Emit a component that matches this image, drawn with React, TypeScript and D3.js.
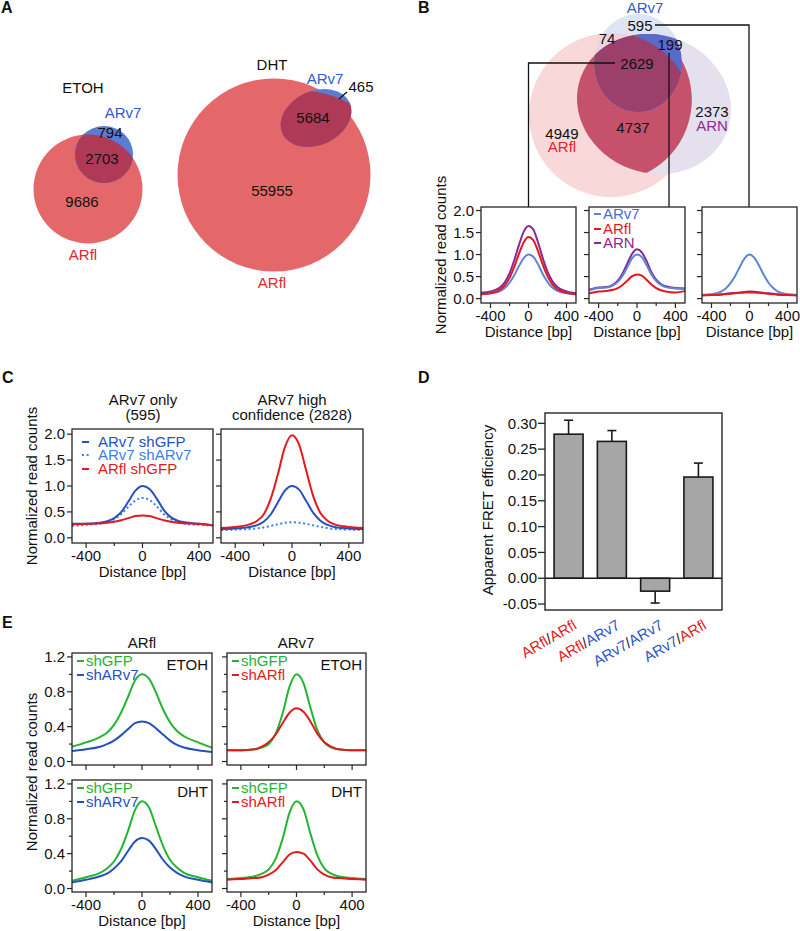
import React from 'react';
import * as d3 from 'd3';

const FONT = '"Liberation Sans", Arial, Helvetica, sans-serif';
const C_RED = '#e3191c';
const C_BLUE = '#2550c2';
const C_LBLUE = '#5b86d8';
const C_DOT = '#3c7fe6';
const C_PURPLE = '#86279a';
const C_GREEN = '#22b531';
const C_AXIS = '#262626';

// ---------- Panel A (Venn counts) ----------
const A_ETOH_COUNTS = [9686, 2703, 794];
const A_DHT_COUNTS = [55955, 5684, 465];

// ---------- Panel B (Venn counts) ----------
const B_COUNTS = { v7only: 595, v7fl: 74, v7n: 199, all: 2629, fln: 4737, flOnly: 4949, nOnly: 2373 };

// ---------- Profile x positions (bp) ----------
const DIST = [-500, -400, -300, -250, -200, -150, -100, -50, 0, 50, 100, 150, 200, 250, 300, 400, 500];
const X_MAJOR = [-400, 0, 400];
const X_MINOR = [-200, 200];

// Panel B profiles
const B1_ARV7 = [0.10, 0.12, 0.17, 0.24, 0.36, 0.53, 0.74, 0.92, 1.0, 0.95, 0.78, 0.56, 0.38, 0.25, 0.18, 0.12, 0.10];
const B1_ARFL = [0.10, 0.12, 0.20, 0.30, 0.47, 0.72, 1.02, 1.28, 1.40, 1.33, 1.08, 0.77, 0.51, 0.33, 0.22, 0.13, 0.10];
const B1_ARN = [0.13, 0.16, 0.25, 0.37, 0.57, 0.87, 1.22, 1.52, 1.65, 1.57, 1.28, 0.92, 0.61, 0.40, 0.27, 0.16, 0.12];
const B2_ARV7 = [0.19, 0.24, 0.26, 0.30, 0.38, 0.52, 0.72, 0.92, 1.0, 0.94, 0.76, 0.55, 0.40, 0.31, 0.26, 0.23, 0.22];
const B2_ARFL = [0.12, 0.16, 0.18, 0.20, 0.24, 0.31, 0.41, 0.51, 0.55, 0.52, 0.43, 0.32, 0.24, 0.19, 0.16, 0.14, 0.17];
const B2_ARN = [0.20, 0.25, 0.27, 0.32, 0.41, 0.57, 0.80, 1.02, 1.12, 1.05, 0.85, 0.60, 0.43, 0.33, 0.28, 0.24, 0.23];
const B3_ARV7 = [0.08, 0.10, 0.16, 0.23, 0.35, 0.52, 0.73, 0.92, 1.0, 0.93, 0.75, 0.54, 0.36, 0.24, 0.16, 0.10, 0.08];
const B3_ARFL = [0.07, 0.08, 0.09, 0.10, 0.11, 0.12, 0.13, 0.14, 0.14, 0.14, 0.13, 0.12, 0.11, 0.10, 0.09, 0.08, 0.07];
const B3_ARN = [0.08, 0.09, 0.10, 0.11, 0.12, 0.13, 0.14, 0.15, 0.16, 0.155, 0.145, 0.13, 0.12, 0.11, 0.10, 0.09, 0.08];

// Panel C profiles
const C1_V7_SHGFP = [0.27, 0.27, 0.29, 0.32, 0.38, 0.50, 0.70, 0.91, 1.0, 0.94, 0.76, 0.54, 0.40, 0.33, 0.30, 0.27, 0.24];
const C1_V7_SHV7 = [0.23, 0.25, 0.27, 0.30, 0.36, 0.46, 0.60, 0.72, 0.77, 0.73, 0.61, 0.46, 0.36, 0.30, 0.27, 0.25, 0.24];
const C1_FL_SHGFP = [0.26, 0.27, 0.28, 0.29, 0.31, 0.34, 0.38, 0.42, 0.43, 0.42, 0.38, 0.34, 0.31, 0.29, 0.28, 0.27, 0.24];
const C2_V7_SHGFP = [0.17, 0.18, 0.21, 0.24, 0.31, 0.45, 0.68, 0.91, 1.0, 0.93, 0.71, 0.48, 0.33, 0.25, 0.21, 0.18, 0.17];
const C2_V7_SHV7 = [0.15, 0.16, 0.17, 0.18, 0.20, 0.23, 0.26, 0.29, 0.30, 0.29, 0.27, 0.24, 0.21, 0.19, 0.17, 0.16, 0.15];
const C2_FL_SHGFP = [0.19, 0.21, 0.26, 0.32, 0.45, 0.75, 1.22, 1.75, 1.98, 1.80, 1.30, 0.80, 0.48, 0.33, 0.26, 0.21, 0.19];

// Panel D
const D_PAIRS = [['ARfl', 'ARfl'], ['ARfl', 'ARv7'], ['ARv7', 'ARv7'], ['ARv7', 'ARfl']];
const D_VALUES = [0.279, 0.265, -0.025, 0.196];
const D_ERRORS = [0.027, 0.021, 0.023, 0.027];
const D_TICKS = [-0.05, 0, 0.05, 0.1, 0.15, 0.2, 0.25, 0.3];

// Panel E profiles
const E1_SHGFP = [0.17, 0.22, 0.28, 0.33, 0.42, 0.56, 0.74, 0.93, 1.0, 0.95, 0.79, 0.60, 0.45, 0.35, 0.29, 0.22, 0.16];
const E1_SHARV7 = [0.12, 0.14, 0.17, 0.20, 0.24, 0.30, 0.37, 0.44, 0.46, 0.44, 0.38, 0.31, 0.24, 0.19, 0.16, 0.13, 0.11];
const E2_SHGFP = [0.13, 0.13, 0.14, 0.16, 0.20, 0.32, 0.55, 0.86, 1.0, 0.90, 0.62, 0.36, 0.22, 0.16, 0.14, 0.13, 0.13];
const E2_SHARFL = [0.13, 0.13, 0.14, 0.17, 0.22, 0.31, 0.44, 0.56, 0.61, 0.57, 0.46, 0.32, 0.22, 0.17, 0.14, 0.13, 0.13];
const E3_SHGFP = [0.09, 0.13, 0.18, 0.23, 0.31, 0.45, 0.66, 0.90, 1.0, 0.93, 0.71, 0.49, 0.33, 0.24, 0.18, 0.13, 0.09];
const E3_SHARV7 = [0.07, 0.10, 0.14, 0.17, 0.23, 0.31, 0.43, 0.54, 0.58, 0.55, 0.45, 0.33, 0.24, 0.18, 0.14, 0.10, 0.07];
const E4_SHGFP = [0.11, 0.12, 0.14, 0.17, 0.22, 0.34, 0.57, 0.87, 1.0, 0.91, 0.63, 0.38, 0.23, 0.17, 0.14, 0.12, 0.11];
const E4_SHARFL = [0.10, 0.11, 0.12, 0.13, 0.16, 0.21, 0.30, 0.39, 0.42, 0.40, 0.32, 0.22, 0.16, 0.13, 0.12, 0.11, 0.10];

const fmt1 = (v: number) => d3.format('.1f')(v).replace('\u2212', '-');
const fmt2 = (v: number) => d3.format('.2f')(v).replace('\u2212', '-');

function T({ x, y, children, anchor = 'middle', fill = '#111', size = 15, weight = 'normal' }: any) {
  return (
    <text x={x} y={y} dy="0.35em" textAnchor={anchor} fill={fill} fontSize={size} fontWeight={weight}>
      {children}
    </text>
  );
}

type Series = { values: number[]; color: string; dash?: string };

function Profile({ box, yDomain, yTicks, yMinor = [], yFmt, showY, showX = true, series }: any) {
  const [x0, y0, x1, y1] = box;
  const xs = d3.scaleLinear().domain([-500, 500]).range([x0, x1]);
  const ys = d3.scaleLinear().domain(yDomain).range([y1, y0]);
  const line = d3
    .line<number>()
    .x((_, i) => xs(DIST[i]))
    .y((d) => ys(d))
    .curve(d3.curveMonotoneX);
  return (
    <g>
      {(series as Series[]).map((s, i) => (
        <path key={i} d={line(s.values) || ''} fill="none" stroke={s.color} strokeWidth={2} strokeDasharray={s.dash} />
      ))}
      <rect x={x0} y={y0} width={x1 - x0} height={y1 - y0} fill="none" stroke={C_AXIS} strokeWidth={1.3} />
      {yTicks.map((t: number) => (
        <g key={'y' + t}>
          <line x1={x0 - 5} x2={x0} y1={ys(t)} y2={ys(t)} stroke={C_AXIS} strokeWidth={1.2} />
          {showY && <T x={x0 - 7} y={ys(t)} anchor="end">{yFmt(t)}</T>}
        </g>
      ))}
      {yMinor.map((t: number) => (
        <line key={'ym' + t} x1={x0 - 3} x2={x0} y1={ys(t)} y2={ys(t)} stroke={C_AXIS} strokeWidth={1.2} />
      ))}
      {X_MAJOR.map((t) => (
        <line key={'x' + t} x1={xs(t)} x2={xs(t)} y1={y1} y2={y1 + 5} stroke={C_AXIS} strokeWidth={1.2} />
      ))}
      {X_MINOR.map((t) => (
        <line key={'xm' + t} x1={xs(t)} x2={xs(t)} y1={y1} y2={y1 + 3} stroke={C_AXIS} strokeWidth={1.2} />
      ))}
      {showX && X_MAJOR.map((t) => <T key={'xl' + t} x={xs(t)} y={y1 + 13}>{String(t)}</T>)}
      {showX && <T x={(x0 + x1) / 2} y={y1 + 29}>Distance [bp]</T>}
    </g>
  );
}

function LegendLine({ x, y, color, label, dash, textColor }: any) {
  return (
    <g>
      <line x1={x} x2={x + 7} y1={y} y2={y} stroke={color} strokeWidth={2} strokeDasharray={dash} />
      <T x={x + 9} y={y} anchor="start" fill={textColor || color}>{label}</T>
    </g>
  );
}

function PanelA() {
  const red = '#e4686a';
  const blue = '#5a7dd2';
  const dark = '#ae3a58';
  return (
    <g>
      <defs>
        <clipPath id="aEtohFl"><circle cx={88} cy={189} r={54.5} /></clipPath>
        <clipPath id="aDhtFl"><circle cx={274} cy={175} r={96.5} /></clipPath>
      </defs>
      {/* ETOH */}
      <circle cx={88} cy={189} r={54.5} fill={red} />
      <ellipse cx={104} cy={154.5} rx={29} ry={28.5} fill={blue} />
      <ellipse cx={104} cy={154.5} rx={29} ry={28.5} fill={dark} clipPath="url(#aEtohFl)" />
      <T x={83} y={88}>ETOH</T>
      <T x={123} y={113} fill="#2f5bd0">ARv7</T>
      <T x={110} y={133}>{A_ETOH_COUNTS[2]}</T>
      <T x={102} y={159}>{A_ETOH_COUNTS[1]}</T>
      <T x={82} y={202}>{A_ETOH_COUNTS[0]}</T>
      <T x={83} y={255} fill="#e0262b">ARfl</T>
      {/* DHT */}
      <circle cx={274} cy={175} r={96.5} fill={red} />
      <ellipse cx={316} cy={118} rx={37} ry={27} transform="rotate(-25 316 118)" fill={blue} />
      <ellipse cx={316} cy={118} rx={37} ry={27} transform="rotate(-25 316 118)" fill={dark} clipPath="url(#aDhtFl)" />
      <T x={272} y={65}>DHT</T>
      <T x={325} y={79} fill="#2f5bd0">ARv7</T>
      <T x={361} y={87}>{A_DHT_COUNTS[2]}</T>
      <line x1={339} y1={99} x2={347} y2={92} stroke="#111" strokeWidth={1.3} />
      <T x={313} y={118}>{A_DHT_COUNTS[1]}</T>
      <T x={272} y={191}>{A_DHT_COUNTS[0]}</T>
      <T x={272} y={283} fill="#e0262b">ARfl</T>
    </g>
  );
}

function PanelB() {
  const fl = { cx: 611, cy: 115, rx: 82, ry: 82 };
  const n = { cx: 654, cy: 104, rx: 78, ry: 69, rot: 20 };
  const v7 = { cx: 638, cy: 63, rx: 44, ry: 49 };
  const flE = (p: any) => <ellipse cx={fl.cx} cy={fl.cy} rx={fl.rx} ry={fl.ry} {...p} />;
  const nE = (p: any) => (
    <ellipse cx={n.cx} cy={n.cy} rx={n.rx} ry={n.ry} transform={`rotate(${n.rot} ${n.cx} ${n.cy})`} {...p} />
  );
  const v7E = (p: any) => <ellipse cx={v7.cx} cy={v7.cy} rx={v7.rx} ry={v7.ry} {...p} />;
  const yT = [0, 0.5, 1, 1.5, 2];
  const boxes = [
    [481, 207, 576, 303],
    [589, 207, 685, 303],
    [702, 207, 797, 303],
  ];
  const data = [
    [B1_ARN, B1_ARV7, B1_ARFL],
    [B2_ARN, B2_ARV7, B2_ARFL],
    [B3_ARN, B3_ARV7, B3_ARFL],
  ];
  return (
    <g>
      <defs>
        <clipPath id="bFl">{flE({})}</clipPath>
        <clipPath id="bN">{nE({})}</clipPath>
      </defs>
      {flE({ fill: '#f8d8d8' })}
      {nE({ fill: '#e5e0ee' })}
      {v7E({ fill: '#dfe4f4' })}
      {nE({ fill: '#c5516b', clipPath: 'url(#bFl)' })}
      {v7E({ fill: '#edd3dd', clipPath: 'url(#bFl)' })}
      {v7E({ fill: '#5a6acb', clipPath: 'url(#bN)' })}
      <g clipPath="url(#bFl)">{v7E({ fill: '#9c3f6a', clipPath: 'url(#bN)' })}</g>
      <T x={645} y={8} fill="#2f5bd0">ARv7</T>
      <T x={640} y={26}>{B_COUNTS.v7only}</T>
      <T x={607} y={39}>{B_COUNTS.v7fl}</T>
      <T x={670} y={45}>{B_COUNTS.v7n}</T>
      <T x={637} y={64}>{B_COUNTS.all}</T>
      <T x={633} y={128}>{B_COUNTS.fln}</T>
      <T x={562} y={134}>{B_COUNTS.flOnly}</T>
      <T x={562} y={147} fill="#e0262b">ARfl</T>
      <T x={712} y={112}>{B_COUNTS.nOnly}</T>
      <T x={712} y={126} fill="#8e2a98">ARN</T>
      {/* connectors */}
      <path d="M615,63 H528.5 V207" fill="none" stroke="#111" strokeWidth={1.3} />
      <path d="M669,53 V207" fill="none" stroke="#111" strokeWidth={1.3} />
      <path d="M655,25 H749 V207" fill="none" stroke="#111" strokeWidth={1.3} />
      {boxes.map((b, i) => (
        <Profile
          key={i}
          box={b}
          yDomain={[-0.1, 2.08]}
          yTicks={yT}
          yFmt={fmt1}
          showY={i === 0}
          series={[
            { values: data[i][0], color: C_PURPLE },
            { values: data[i][1], color: C_LBLUE },
            { values: data[i][2], color: C_RED },
          ]}
        />
      ))}
      <LegendLine x={594} y={214} color={C_LBLUE} label="ARv7" textColor="#3e6fd6" />
      <LegendLine x={594} y={229} color={C_RED} label="ARfl" />
      <LegendLine x={594} y={243} color={C_PURPLE} label="ARN" />
      <text transform="translate(441,255) rotate(-90)" textAnchor="middle" dy="0.35em" fontSize={15} fill="#111">
        Normalized read counts
      </text>
    </g>
  );
}

function PanelC() {
  const yT = [0, 0.5, 1, 1.5, 2];
  return (
    <g>
      <T x={143} y={400}>ARv7 only</T>
      <T x={143} y={415}>(595)</T>
      <T x={292} y={400}>ARv7 high</T>
      <T x={292} y={415}>confidence (2828)</T>
      <Profile
        box={[72, 429, 213, 543]}
        yDomain={[-0.1, 2.1]}
        yTicks={yT}
        yFmt={fmt1}
        showY
        series={[
          { values: C1_V7_SHV7, color: C_DOT, dash: '2 2.6' },
          { values: C1_V7_SHGFP, color: C_BLUE },
          { values: C1_FL_SHGFP, color: C_RED },
        ]}
      />
      <Profile
        box={[221, 429, 363, 543]}
        yDomain={[-0.1, 2.1]}
        yTicks={yT}
        yFmt={fmt1}
        showY={false}
        series={[
          { values: C2_V7_SHV7, color: C_DOT, dash: '2 2.6' },
          { values: C2_V7_SHGFP, color: C_BLUE },
          { values: C2_FL_SHGFP, color: C_RED },
        ]}
      />
      <line x1={82} x2={89} y1={442} y2={442} stroke={C_BLUE} strokeWidth={2} />
      <T x={98} y={442} anchor="start" fill={C_BLUE}>ARv7 shGFP</T>
      <line x1={82} x2={90} y1={455} y2={455} stroke={C_DOT} strokeWidth={2} strokeDasharray="2 2.6" />
      <T x={98} y={455} anchor="start" fill={C_DOT}>ARv7 shARv7</T>
      <line x1={82} x2={89} y1={469} y2={469} stroke={C_RED} strokeWidth={2} />
      <T x={98} y={469} anchor="start" fill={C_RED}>ARfl shGFP</T>
      <text transform="translate(32,486) rotate(-90)" textAnchor="middle" dy="0.35em" fontSize={15} fill="#111">
        Normalized read counts
      </text>
    </g>
  );
}

function PanelD() {
  const x0 = 545, x1 = 722, y0 = 413, y1 = 610;
  const xb = d3.scaleBand<number>().domain(d3.range(D_VALUES.length)).range([x0, x1]).paddingInner(0.33).paddingOuter(0.21);
  const ys = d3.scaleLinear().domain([-0.0615, 0.32]).range([y1, y0]);
  const col = (s: string) => (s === 'ARfl' ? C_RED : '#2a55c7');
  return (
    <g>
      {D_VALUES.map((v, i) => {
        const bx = xb(i)!;
        const w = xb.bandwidth();
        const cx = bx + w / 2;
        const top = ys(Math.max(v, 0));
        const bot = ys(Math.min(v, 0));
        const eEnd = v >= 0 ? ys(v + D_ERRORS[i]) : ys(v - D_ERRORS[i]);
        const eStart = ys(v);
        return (
          <g key={i}>
            <line x1={cx} x2={cx} y1={eStart} y2={eEnd} stroke="#1a1a1a" strokeWidth={1.6} />
            <line x1={cx - 4.5} x2={cx + 4.5} y1={eEnd} y2={eEnd} stroke="#1a1a1a" strokeWidth={1.6} />
            <rect x={bx} y={top} width={w} height={bot - top} fill="#a6a6a6" stroke="#1a1a1a" strokeWidth={1.6} />
            <text transform={`translate(${cx + 9},${628}) rotate(-30)`} textAnchor="end" fontSize={15}>
              <tspan fill={col(D_PAIRS[i][0])}>{D_PAIRS[i][0]}</tspan>
              <tspan fill="#222">/</tspan>
              <tspan fill={col(D_PAIRS[i][1])}>{D_PAIRS[i][1]}</tspan>
            </text>
          </g>
        );
      })}
      <line x1={x0} x2={x1} y1={ys(0)} y2={ys(0)} stroke="#1a1a1a" strokeWidth={1.4} />
      <rect x={x0} y={y0} width={x1 - x0} height={y1 - y0} fill="none" stroke={C_AXIS} strokeWidth={1.4} />
      {D_TICKS.map((t) => (
        <g key={t}>
          <line x1={x0 - 7} x2={x0} y1={ys(t)} y2={ys(t)} stroke={C_AXIS} strokeWidth={1.3} />
          <T x={x0 - 8} y={ys(t)} anchor="end">{fmt2(t)}</T>
        </g>
      ))}
      <text transform="translate(488,510) rotate(-90)" textAnchor="middle" dy="0.35em" fontSize={15} fill="#111">
        Apparent FRET efficiency
      </text>
    </g>
  );
}

function PanelE() {
  const yT = [0, 0.4, 0.8, 1.2];
  const yM = [0.2, 0.6, 1.0];
  const dom = [-0.04, 1.245];
  const rows = [
    { y0: 653, y1: 765, cond: 'ETOH', showX: false },
    { y0: 780, y1: 892, cond: 'DHT', showX: true },
  ];
  const cols = [
    { x0: 72, x1: 212, alt: 'shARv7', altColor: C_BLUE },
    { x0: 227, x1: 366, alt: 'shARfl', altColor: C_RED },
  ];
  const data = [
    [E1_SHGFP, E1_SHARV7, E2_SHGFP, E2_SHARFL],
    [E3_SHGFP, E3_SHARV7, E4_SHGFP, E4_SHARFL],
  ];
  return (
    <g>
      <T x={142} y={643}>ARfl</T>
      <T x={296} y={643}>ARv7</T>
      {rows.map((r, ri) =>
        cols.map((c, ci) => (
          <g key={ri + '-' + ci}>
            <Profile
              box={[c.x0, r.y0, c.x1, r.y1]}
              yDomain={dom}
              yTicks={yT}
              yMinor={yM}
              yFmt={fmt1}
              showY={ci === 0}
              showX={r.showX}
              series={[
                { values: data[ri][ci * 2], color: C_GREEN },
                { values: data[ri][ci * 2 + 1], color: c.altColor },
              ]}
            />
            <LegendLine x={c.x0 + 5} y={r.y0 + 8} color={C_GREEN} label="shGFP" />
            <LegendLine x={c.x0 + 5} y={r.y0 + 22} color={c.altColor} label={c.alt} />
            <T x={c.x1 - 4} y={r.y0 + 12} anchor="end">{r.cond}</T>
          </g>
        ))
      )}
      <text transform="translate(32,772) rotate(-90)" textAnchor="middle" dy="0.35em" fontSize={15} fill="#111">
        Normalized read counts
      </text>
    </g>
  );
}

export default function App() {
  return (
    <svg
      width={800}
      height={931}
      viewBox="0 0 800 931"
      style={{ position: 'absolute', left: 0, top: 0, background: '#fff' }}
      fontFamily={FONT}
    >
      <rect x={0} y={0} width={800} height={931} fill="#fff" />
      <PanelA />
      <PanelB />
      <PanelC />
      <PanelD />
      <PanelE />
      <T x={1} y={7} anchor="start" size={16} weight="bold">A</T>
      <T x={418} y={7} anchor="start" size={16} weight="bold">B</T>
      <T x={2} y={377} anchor="start" size={16} weight="bold">C</T>
      <T x={418} y={377} anchor="start" size={16} weight="bold">D</T>
      <T x={2} y={622} anchor="start" size={16} weight="bold">E</T>
    </svg>
  );
}
